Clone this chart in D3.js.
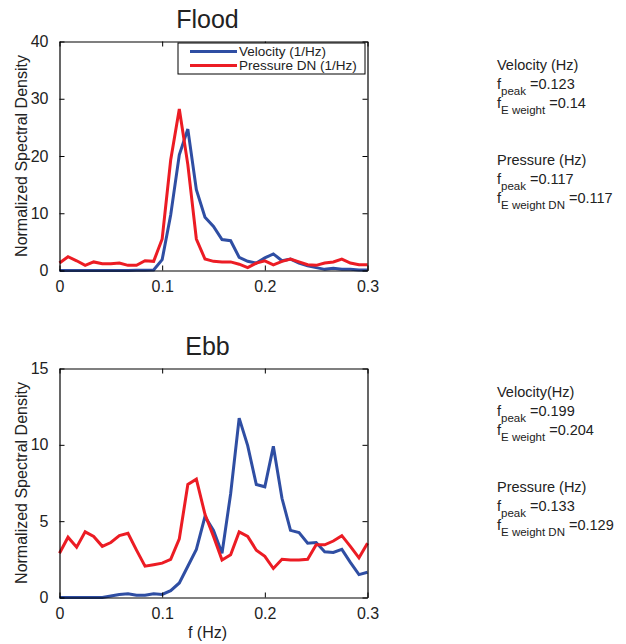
<!DOCTYPE html>
<html>
<head>
<meta charset="utf-8">
<script src="https://cdn.jsdelivr.net/npm/d3@7"></script>
<style>
  body { margin: 0; background: #fff; }
  text { font-family: "Liberation Sans", Arial, Helvetica, sans-serif; fill: #222; }
</style>
</head>
<body>
<div id="plot"></div>
<script>
// Frequency grid (Hz)
var freq = [0, 0.0083, 0.0167, 0.025, 0.0333, 0.0417, 0.05, 0.0583, 0.0667, 0.075,
  0.0833, 0.0917, 0.1, 0.1083, 0.1167, 0.125, 0.1333, 0.1417, 0.15, 0.1583,
  0.1667, 0.175, 0.1833, 0.1917, 0.2, 0.2083, 0.2167, 0.225, 0.2333, 0.2417,
  0.25, 0.2583, 0.2667, 0.275, 0.2833, 0.2917, 0.3];

// Flood spectra
var floodVelocity = [0, 0, 0, 0, 0, 0, 0, 0, 0, 0.05, 0.05, 0.1, 1.9, 9.7, 20.2, 24.7,
  14.1, 9.3, 7.7, 5.4, 5.2, 2.3, 1.6, 1.3, 2.2, 2.9, 1.7, 2.0, 1.3, 0.8,
  0.5, 0.2, 0.4, 0.2, 0.2, 0.1, 0.1];
var floodPressure = [1.3, 2.4, 1.7, 0.9, 1.5, 1.2, 1.2, 1.3, 0.9, 0.9, 1.7, 1.6, 5.5,
  19.3, 28.2, 18.5, 5.5, 2.0, 1.6, 1.5, 1.5, 1.1, 0.5, 1.3, 1.7, 1.0, 1.6,
  2.0, 1.5, 1.0, 0.9, 1.3, 1.5, 2.0, 1.3, 1.0, 1.0];

// Ebb spectra
var ebbVelocity = [0, 0, 0, 0, 0, 0, 0.1, 0.2, 0.25, 0.15, 0.15, 0.25, 0.2, 0.45, 0.95,
  2.05, 3.15, 5.3, 4.4, 2.9, 6.8, 11.75, 9.95, 7.4, 7.25, 9.9, 6.5, 4.4, 4.25,
  3.55, 3.6, 3.0, 2.95, 3.15, 2.3, 1.5, 1.65];
var ebbPressure = [2.9, 3.95, 3.3, 4.3, 4.0, 3.35, 3.6, 4.05, 4.2, 3.1, 2.05, 2.15, 2.25,
  2.5, 3.85, 7.4, 7.75, 5.45, 4.0, 2.45, 2.8, 4.3, 4.0, 3.1, 2.7, 1.9, 2.5,
  2.45, 2.45, 2.5, 3.45, 3.45, 3.7, 4.05, 3.35, 2.6, 3.55];

var xTicks = [0, 0.1, 0.2, 0.3];
var floodYTicks = [0, 10, 20, 30, 40];
var ebbYTicks = [0, 5, 10, 15];
var legendLabels = ["Velocity (1/Hz)", "Pressure DN (1/Hz)"];

var floodNotes = [
  {head: "Velocity (Hz)", rows: [["peak", "=0.123"], ["E weight", "=0.14"]]},
  {head: "Pressure (Hz)", rows: [["peak", "=0.117"], ["E weight DN", "=0.117"]]}
];
var ebbNotes = [
  {head: "Velocity(Hz)", rows: [["peak", "=0.199"], ["E weight", "=0.204"]]},
  {head: "Pressure (Hz)", rows: [["peak", "=0.133"], ["E weight DN", "=0.129"]]}
];

var blue = "#2f4ea3", red = "#ec1c24";

var svg = d3.select("#plot").append("svg")
  .attr("width", 626)
  .attr("height", 644);

function panel(opts) {
  var left = 59.5, width = 308;
  var top = opts.top, height = 229;

  var x = d3.scaleLinear().domain([0, 0.3]).range([0, width]);
  var y = d3.scaleLinear().domain(opts.yDomain).range([height, 0]);

  var g = svg.append("g").attr("transform", "translate(" + left + "," + top + ")");

  // Title
  g.append("text")
    .attr("x", width / 2 - 6)
    .attr("y", -14)
    .attr("text-anchor", "middle")
    .style("font-size", "25px")
    .text(opts.title);

  // Lines
  var line = d3.line()
    .x(function(d, i) { return x(freq[i]); })
    .y(function(d) { return y(d); });

  g.append("path").datum(opts.velocity)
    .attr("d", line).attr("fill", "none")
    .attr("stroke", blue).attr("stroke-width", 3).attr("stroke-linejoin", "miter");
  g.append("path").datum(opts.pressure)
    .attr("d", line).attr("fill", "none")
    .attr("stroke", red).attr("stroke-width", 3).attr("stroke-linejoin", "miter");

  // Axes (MATLAB-style inward ticks on every side)
  var tl = 5;
  g.append("g").attr("transform", "translate(0," + height + ")")
    .call(d3.axisBottom(x).tickValues(xTicks).tickSizeInner(-tl).tickSizeOuter(0).tickPadding(10)
      .tickFormat(function(d) { return d === 0 ? "0" : d3.format(".1f")(d); }))
    .call(styleAxis);
  g.append("g")
    .call(d3.axisTop(x).tickValues(xTicks).tickSizeInner(-tl).tickSizeOuter(0).tickFormat(""))
    .call(styleAxis);
  g.append("g")
    .call(d3.axisLeft(y).tickValues(opts.yTicks).tickSizeInner(-tl).tickSizeOuter(0).tickPadding(11))
    .call(styleAxis);
  g.append("g").attr("transform", "translate(" + width + ",0)")
    .call(d3.axisRight(y).tickValues(opts.yTicks).tickSizeInner(-tl).tickSizeOuter(0).tickFormat(""))
    .call(styleAxis);

  // Y label
  g.append("text")
    .attr("transform", "rotate(-90)")
    .attr("x", -height / 2)
    .attr("y", -33)
    .attr("text-anchor", "middle")
    .style("font-size", "16px")
    .text("Normalized Spectral Density");

  if (opts.xLabel) {
    g.append("text")
      .attr("x", width / 2 - 6)
      .attr("y", height + 40)
      .attr("text-anchor", "middle")
      .style("font-size", "16px")
      .text(opts.xLabel);
  }

  if (opts.legend) {
    var lg = g.append("g").attr("transform", "translate(" + (178 - left) + "," + (43 - top) + ")");
    lg.append("rect").attr("width", 187).attr("height", 31)
      .attr("fill", "#fff").attr("stroke", "#000").attr("stroke-width", 1);
    var items = lg.selectAll("g.item").data(legendLabels).enter().append("g")
      .attr("transform", function(d, i) { return "translate(0," + (8.5 + i * 14) + ")"; });
    items.append("line").attr("x1", 12).attr("x2", 59)
      .attr("stroke", function(d, i) { return i === 0 ? blue : red; })
      .attr("stroke-width", 3);
    items.append("text").attr("x", 61).attr("y", 4.5)
      .style("font-size", "13.5px")
      .text(function(d) { return d; });
  }

  // Side notes
  var notes = svg.append("g").attr("transform", "translate(497," + (top + 28) + ")");
  opts.notes.forEach(function(n, k) {
    var base = k * 95;
    notes.append("text").attr("x", 0).attr("y", base)
      .style("font-size", "14.5px").text(n.head);
    n.rows.forEach(function(r, j) {
      var t = notes.append("text").attr("x", 0).attr("y", base + 19 + j * 19)
        .style("font-size", "14.5px");
      t.append("tspan").text("f");
      t.append("tspan").attr("dy", 6).style("font-size", "11.5px").text(r[0]);
      t.append("tspan").attr("dy", -6).style("font-size", "14.5px").text(" " + r[1]);
    });
  });
}

function styleAxis(sel) {
  sel.select(".domain").attr("stroke", "#000").attr("stroke-width", 1.2);
  sel.selectAll(".tick line").attr("stroke", "#000").attr("stroke-width", 1);
  sel.selectAll(".tick text")
    .style("font-size", "16px")
    .style("font-family", "'Liberation Sans', Arial, sans-serif")
    .attr("fill", "#222");
}

panel({
  top: 41.5, title: "Flood", yDomain: [0, 40], yTicks: floodYTicks,
  velocity: floodVelocity, pressure: floodPressure, legend: true, notes: floodNotes
});
panel({
  top: 368.5, title: "Ebb", yDomain: [0, 15], yTicks: ebbYTicks,
  velocity: ebbVelocity, pressure: ebbPressure, xLabel: "f (Hz)", notes: ebbNotes
});
</script>
</body>
</html>
